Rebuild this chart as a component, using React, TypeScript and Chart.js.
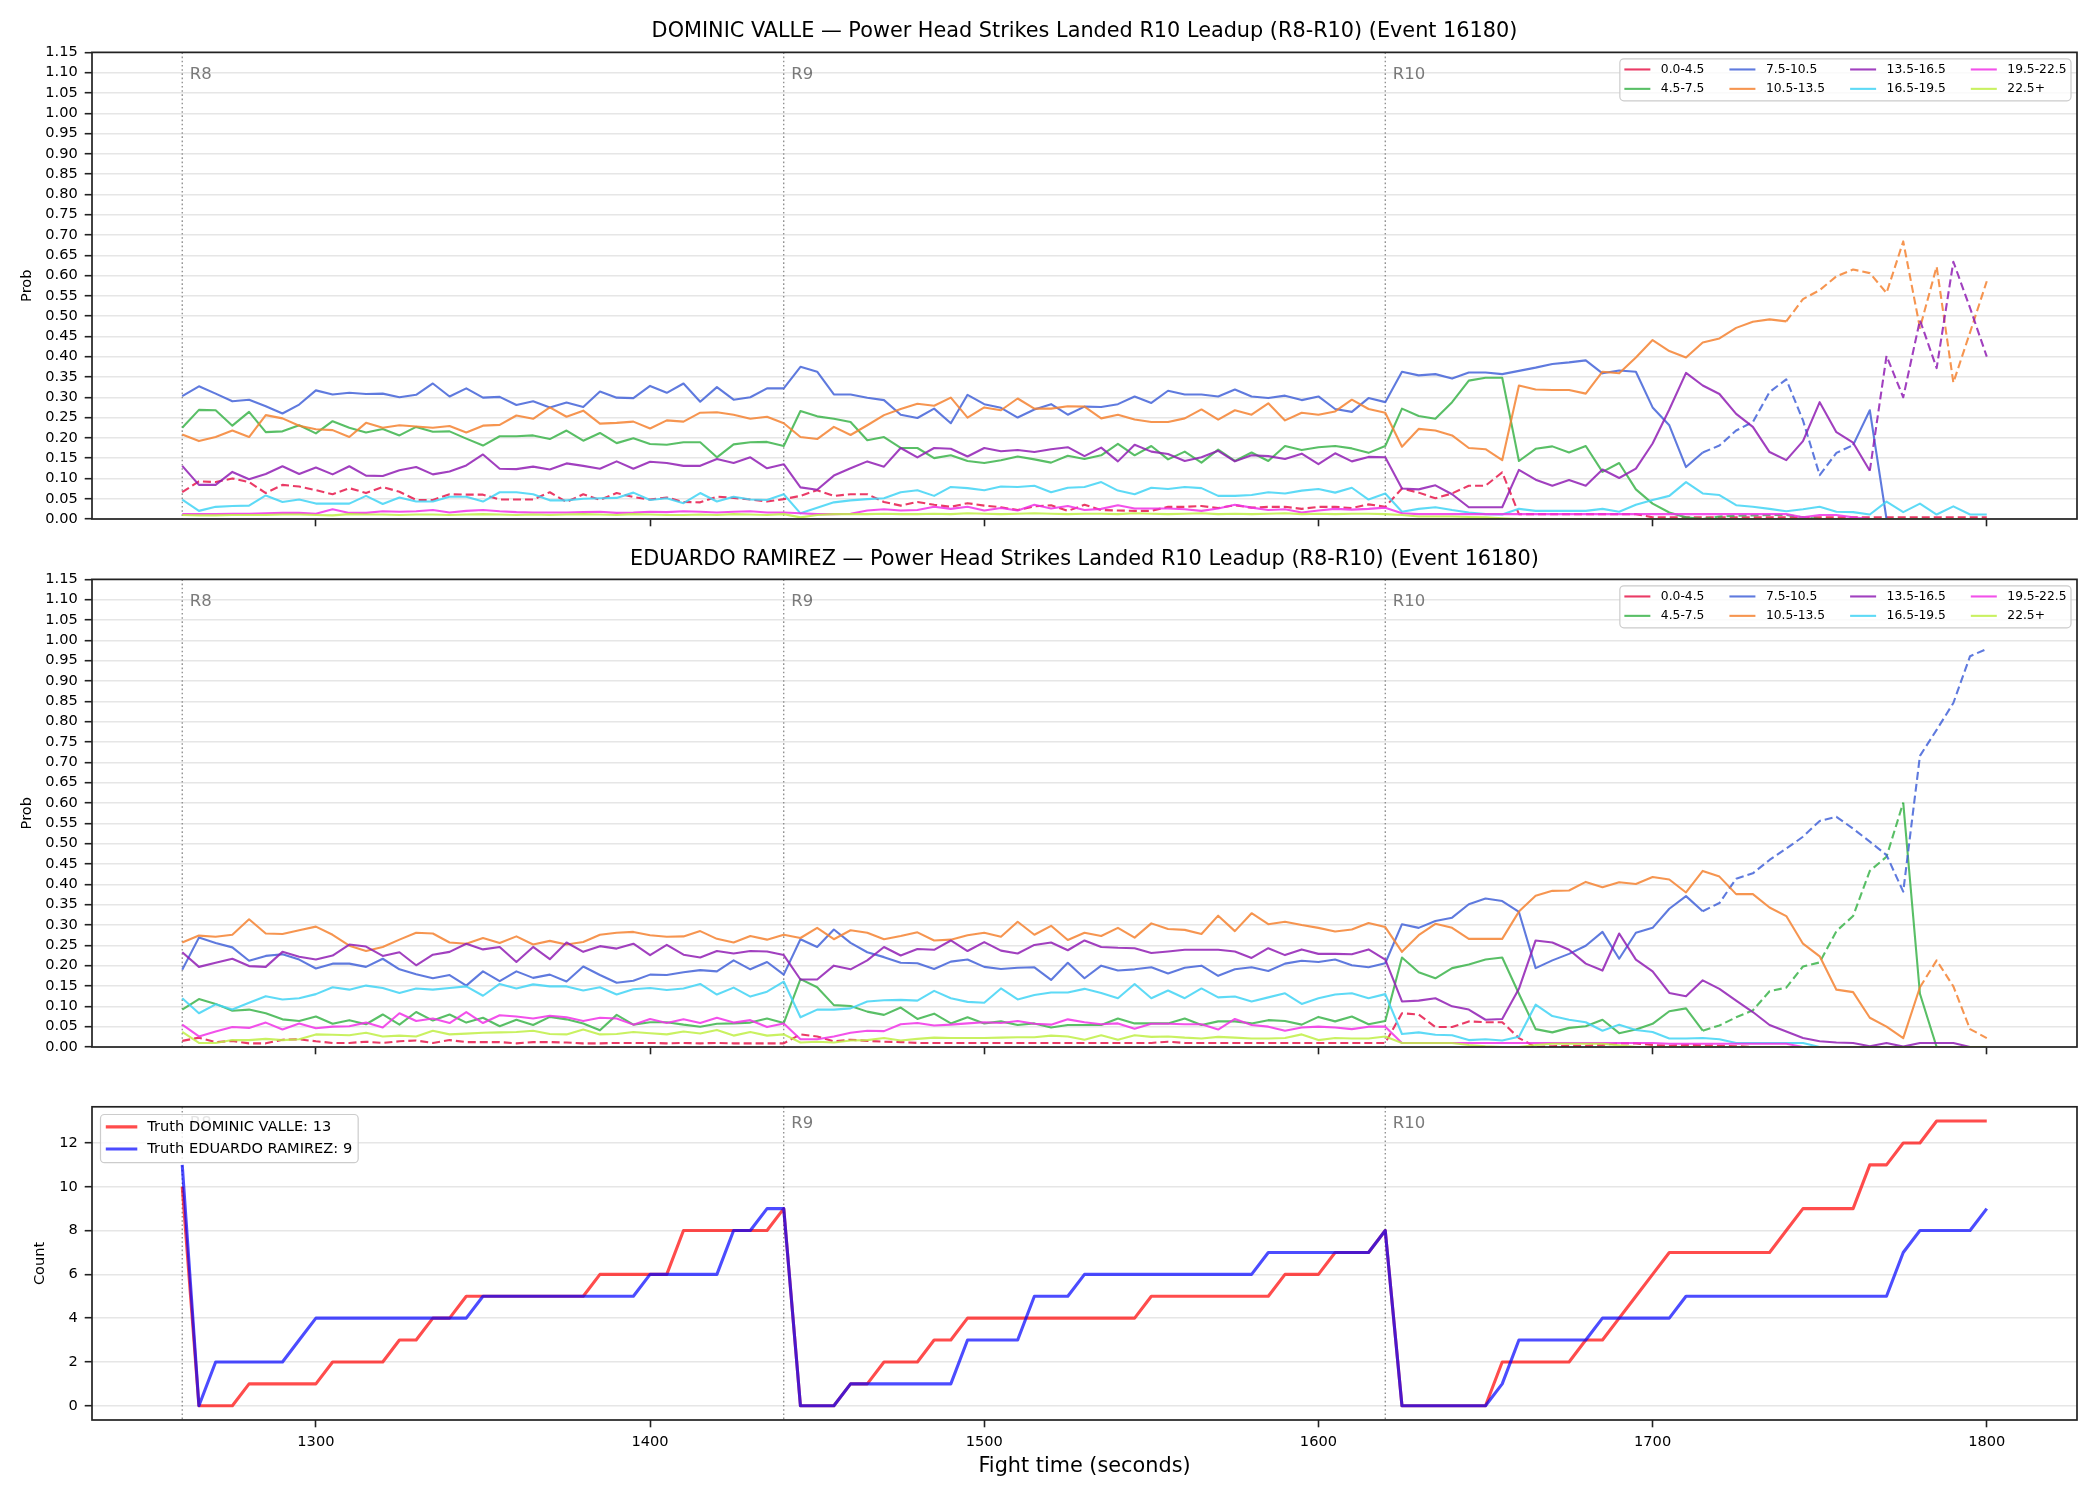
import React, { useEffect, useRef } from "react";
import { Chart, registerables } from "chart.js";

Chart.register(...registerables);

const FONT = "'DejaVu Sans', 'Liberation Sans', Arial, sans-serif";

// ---- sampling grid: fight time in seconds, one sample every 5 s from R8 start to 1800 ----
const T_START = 1260;
const T_STEP = 5;
const N_SAMPLES = 109;
const TIMES: number[] = Array.from({ length: N_SAMPLES }, (_, i) => T_START + i * T_STEP);

const X_MIN = 1233;
const X_MAX = 1827;
const X_TICKS = [1300, 1400, 1500, 1600, 1700, 1800];
const PROB_TICKS = [
  0, 0.05, 0.1, 0.15, 0.2, 0.25, 0.3, 0.35, 0.4, 0.45, 0.5, 0.55,
  0.6, 0.65, 0.7, 0.75, 0.8, 0.85, 0.9, 0.95, 1.0, 1.05, 1.1, 1.15,
];
const COUNT_TICKS = [0, 2, 4, 6, 8, 10, 12];

const ROUND_STARTS = [1260, 1440, 1620];
const ROUND_LABELS = ["R8", "R9", "R10"];

const BUCKETS = ["0.0-4.5", "4.5-7.5", "7.5-10.5", "10.5-13.5", "13.5-16.5", "16.5-19.5", "19.5-22.5", "22.5+"];
const BUCKET_COLORS = ["#e6194b", "#3cb44b", "#4363d8", "#f58231", "#911eb4", "#42d4f4", "#f032e6", "#bfef45"];

// ---- DOMINIC VALLE: bucket probabilities (rows: R8 / R9 / R10 samples) ----
const VALLE_P_0_4 = [
  0.066, 0.093, 0.091, 0.100, 0.091, 0.064, 0.084, 0.080, 0.071, 0.061, 0.076, 0.064, 0.079, 0.067, 0.047, 0.047, 0.061, 0.060, 0.060, 0.048, 0.048, 0.048, 0.066, 0.042, 0.061, 0.047, 0.064, 0.054, 0.048, 0.053, 0.042, 0.041, 0.055, 0.052, 0.048, 0.043, 0.049,
  0.057, 0.071, 0.057, 0.061, 0.061, 0.042, 0.033, 0.042, 0.035, 0.030, 0.039, 0.033, 0.029, 0.022, 0.031, 0.034, 0.020, 0.035, 0.022, 0.021, 0.020, 0.020, 0.030, 0.030, 0.032, 0.027, 0.034, 0.028, 0.030, 0.030, 0.025, 0.030, 0.030, 0.027, 0.036, 0.030,
  0.075, 0.065, 0.051, 0.063, 0.082, 0.082, 0.115, 0.012, 0.012, 0.012, 0.012, 0.012, 0.012, 0.012, 0.012, 0.004, 0.004, 0.004, 0.004, 0.004, 0.004, 0.004, 0.004, 0.004, 0.004, 0.004, 0.004, 0.004, 0.004, 0.004, 0.004, 0.004, 0.004, 0.004, 0.004, 0.004,
];
const VALLE_P_4_7 = [
  0.225, 0.269, 0.268, 0.230, 0.264, 0.214, 0.216, 0.231, 0.211, 0.241, 0.225, 0.213, 0.222, 0.206, 0.227, 0.215, 0.216, 0.198, 0.181, 0.204, 0.204, 0.206, 0.197, 0.218, 0.193, 0.212, 0.187, 0.199, 0.185, 0.183, 0.189, 0.189, 0.152, 0.184, 0.189, 0.190, 0.180,
  0.266, 0.253, 0.247, 0.239, 0.194, 0.202, 0.175, 0.175, 0.150, 0.157, 0.143, 0.138, 0.145, 0.154, 0.147, 0.139, 0.156, 0.148, 0.157, 0.185, 0.157, 0.180, 0.147, 0.166, 0.139, 0.171, 0.143, 0.164, 0.143, 0.180, 0.170, 0.177, 0.180, 0.174, 0.163, 0.180,
  0.272, 0.254, 0.247, 0.288, 0.341, 0.348, 0.348, 0.143, 0.173, 0.179, 0.164, 0.180, 0.116, 0.138, 0.073, 0.038, 0.016, 0.004, 0.000, 0.006, 0.008, 0.009, 0.010, 0.010, 0.004, 0, 0, 0, 0, 0, 0, 0, 0, 0, 0, 0,
];
const VALLE_P_7_10 = [
  0.303, 0.327, 0.309, 0.290, 0.294, 0.278, 0.260, 0.282, 0.317, 0.307, 0.311, 0.308, 0.309, 0.300, 0.306, 0.334, 0.302, 0.322, 0.299, 0.301, 0.281, 0.290, 0.275, 0.287, 0.276, 0.314, 0.299, 0.298, 0.328, 0.311, 0.334, 0.289, 0.325, 0.294, 0.300, 0.322, 0.322,
  0.375, 0.363, 0.307, 0.307, 0.299, 0.293, 0.257, 0.249, 0.272, 0.236, 0.306, 0.283, 0.274, 0.250, 0.270, 0.283, 0.257, 0.277, 0.276, 0.283, 0.302, 0.286, 0.316, 0.307, 0.307, 0.302, 0.319, 0.302, 0.298, 0.304, 0.293, 0.302, 0.271, 0.264, 0.298, 0.288,
  0.363, 0.354, 0.357, 0.346, 0.361, 0.361, 0.357, 0.365, 0.373, 0.382, 0.386, 0.391, 0.359, 0.366, 0.363, 0.275, 0.231, 0.128, 0.164, 0.181, 0.218, 0.239, 0.313, 0.344, 0.243, 0.108, 0.163, 0.182, 0.268, 0, 0, 0, 0, 0, 0, 0,
];
const VALLE_P_10_13 = [
  0.208, 0.192, 0.202, 0.218, 0.202, 0.256, 0.248, 0.230, 0.221, 0.219, 0.202, 0.237, 0.225, 0.231, 0.228, 0.225, 0.229, 0.213, 0.230, 0.232, 0.255, 0.247, 0.275, 0.252, 0.267, 0.235, 0.237, 0.240, 0.223, 0.243, 0.240, 0.262, 0.263, 0.257, 0.247, 0.252, 0.236,
  0.202, 0.197, 0.227, 0.207, 0.231, 0.256, 0.271, 0.284, 0.279, 0.299, 0.250, 0.275, 0.268, 0.297, 0.272, 0.272, 0.278, 0.277, 0.248, 0.257, 0.245, 0.239, 0.239, 0.248, 0.270, 0.245, 0.268, 0.257, 0.285, 0.243, 0.262, 0.257, 0.265, 0.294, 0.271, 0.262,
  0.178, 0.222, 0.218, 0.206, 0.175, 0.172, 0.145, 0.329, 0.319, 0.318, 0.318, 0.309, 0.363, 0.359, 0.398, 0.441, 0.414, 0.398, 0.435, 0.445, 0.471, 0.486, 0.492, 0.487, 0.542, 0.564, 0.598, 0.615, 0.606, 0.557, 0.684, 0.471, 0.622, 0.336, 0.460, 0.586,
];
const VALLE_P_13_16 = [
  0.131, 0.084, 0.084, 0.116, 0.098, 0.111, 0.130, 0.111, 0.127, 0.110, 0.130, 0.107, 0.106, 0.120, 0.128, 0.110, 0.117, 0.132, 0.159, 0.124, 0.123, 0.129, 0.122, 0.137, 0.131, 0.124, 0.142, 0.124, 0.141, 0.138, 0.131, 0.131, 0.148, 0.138, 0.152, 0.125, 0.135,
  0.078, 0.072, 0.107, 0.125, 0.142, 0.129, 0.175, 0.152, 0.175, 0.173, 0.154, 0.175, 0.167, 0.170, 0.165, 0.172, 0.177, 0.155, 0.176, 0.142, 0.183, 0.166, 0.160, 0.143, 0.152, 0.168, 0.142, 0.157, 0.155, 0.148, 0.161, 0.135, 0.162, 0.142, 0.153, 0.152,
  0.075, 0.073, 0.083, 0.061, 0.029, 0.029, 0.029, 0.121, 0.097, 0.082, 0.096, 0.082, 0.122, 0.101, 0.124, 0.186, 0.270, 0.360, 0.329, 0.308, 0.259, 0.227, 0.165, 0.145, 0.192, 0.288, 0.214, 0.188, 0.119, 0.402, 0.300, 0.490, 0.372, 0.634, 0.520, 0.400,
];
const VALLE_P_16_19 = [
  0.048, 0.020, 0.030, 0.032, 0.033, 0.058, 0.042, 0.048, 0.038, 0.038, 0.038, 0.057, 0.037, 0.053, 0.043, 0.043, 0.055, 0.055, 0.043, 0.066, 0.066, 0.061, 0.046, 0.046, 0.050, 0.051, 0.052, 0.065, 0.047, 0.051, 0.039, 0.064, 0.043, 0.055, 0.048, 0.047, 0.061,
  0.014, 0.028, 0.041, 0.046, 0.049, 0.051, 0.066, 0.071, 0.057, 0.079, 0.076, 0.071, 0.080, 0.079, 0.082, 0.066, 0.077, 0.079, 0.091, 0.070, 0.061, 0.077, 0.074, 0.079, 0.076, 0.057, 0.057, 0.059, 0.066, 0.063, 0.070, 0.074, 0.065, 0.077, 0.048, 0.063,
  0.018, 0.025, 0.029, 0.022, 0.016, 0.012, 0.011, 0.025, 0.020, 0.020, 0.020, 0.020, 0.025, 0.018, 0.035, 0.047, 0.057, 0.091, 0.063, 0.059, 0.034, 0.030, 0.025, 0.019, 0.024, 0.030, 0.018, 0.017, 0.011, 0.043, 0.017, 0.038, 0.011, 0.031, 0.011, 0.011,
];
const VALLE_P_19_22 = [
  0.012, 0.012, 0.012, 0.013, 0.013, 0.014, 0.015, 0.015, 0.013, 0.024, 0.015, 0.015, 0.019, 0.018, 0.019, 0.022, 0.016, 0.020, 0.022, 0.019, 0.017, 0.016, 0.016, 0.016, 0.017, 0.018, 0.015, 0.016, 0.018, 0.017, 0.019, 0.018, 0.016, 0.018, 0.019, 0.016, 0.016,
  0.014, 0.012, 0.012, 0.013, 0.021, 0.024, 0.021, 0.022, 0.030, 0.025, 0.030, 0.021, 0.027, 0.021, 0.035, 0.026, 0.032, 0.022, 0.025, 0.034, 0.026, 0.026, 0.026, 0.024, 0.020, 0.026, 0.035, 0.028, 0.022, 0.024, 0.016, 0.021, 0.025, 0.023, 0.025, 0.028,
  0.014, 0.012, 0.012, 0.012, 0.012, 0.012, 0.012, 0.012, 0.012, 0.012, 0.012, 0.012, 0.012, 0.012, 0.012, 0.012, 0.012, 0.012, 0.012, 0.012, 0.012, 0.012, 0.012, 0.012, 0.004, 0.010, 0.010, 0.004, 0, 0, 0, 0, 0, 0, 0, 0,
];
const VALLE_P_22_UP = [
  0.010, 0.009, 0.009, 0.010, 0.010, 0.010, 0.011, 0.011, 0.010, 0.009, 0.012, 0.011, 0.011, 0.010, 0.011, 0.011, 0.010, 0.011, 0.012, 0.011, 0.010, 0.011, 0.010, 0.011, 0.012, 0.011, 0.010, 0.012, 0.011, 0.010, 0.010, 0.011, 0.010, 0.012, 0.011, 0.010, 0.012,
  0.004, 0.010, 0.012, 0.012, 0.012, 0.013, 0.012, 0.012, 0.013, 0.012, 0.014, 0.013, 0.012, 0.013, 0.014, 0.013, 0.012, 0.013, 0.013, 0.012, 0.014, 0.013, 0.012, 0.013, 0.014, 0.012, 0.013, 0.012, 0.013, 0.014, 0.012, 0.013, 0.012, 0.013, 0.013, 0.012,
  0.010, 0.006, 0.006, 0.006, 0.005, 0.004, 0.002, 0, 0, 0, 0, 0, 0, 0, 0, 0, 0, 0, 0, 0, 0, 0, 0, 0, 0, 0, 0, 0, 0, 0, 0, 0, 0, 0, 0, 0,
];

// ---- EDUARDO RAMIREZ: bucket probabilities ----
const RAMIREZ_P_0_4 = [
  0.015, 0.023, 0.012, 0.015, 0.009, 0.009, 0.018, 0.019, 0.014, 0.010, 0.010, 0.013, 0.010, 0.014, 0.016, 0.010, 0.017, 0.012, 0.012, 0.012, 0.009, 0.012, 0.012, 0.011, 0.009, 0.009, 0.010, 0.010, 0.010, 0.009, 0.010, 0.009, 0.010, 0.009, 0.009, 0.009, 0.009,
  0.031, 0.026, 0.014, 0.018, 0.015, 0.013, 0.012, 0.010, 0.010, 0.010, 0.010, 0.010, 0.010, 0.010, 0.010, 0.010, 0.010, 0.010, 0.010, 0.010, 0.010, 0.010, 0.013, 0.010, 0.010, 0.010, 0.010, 0.010, 0.010, 0.010, 0.010, 0.010, 0.010, 0.010, 0.010, 0.010,
  0.083, 0.080, 0.049, 0.049, 0.063, 0.061, 0.061, 0.022, 0.000, 0.002, 0.003, 0.003, 0.005, 0.009, 0.009, 0.005, 0.003, 0.005, 0.004, 0.003, 0.002, 0, 0, 0, 0, 0, 0, 0, 0, 0, 0, 0, 0, 0, 0, 0,
];
const RAMIREZ_P_4_7 = [
  0.092, 0.118, 0.106, 0.089, 0.092, 0.083, 0.068, 0.064, 0.075, 0.057, 0.066, 0.056, 0.080, 0.055, 0.086, 0.065, 0.080, 0.060, 0.072, 0.051, 0.067, 0.054, 0.074, 0.068, 0.058, 0.041, 0.079, 0.055, 0.061, 0.061, 0.055, 0.050, 0.057, 0.058, 0.060, 0.070, 0.059,
  0.167, 0.147, 0.103, 0.101, 0.087, 0.079, 0.097, 0.069, 0.082, 0.058, 0.073, 0.058, 0.063, 0.054, 0.058, 0.048, 0.054, 0.054, 0.054, 0.070, 0.058, 0.058, 0.058, 0.070, 0.054, 0.063, 0.063, 0.058, 0.066, 0.064, 0.055, 0.074, 0.063, 0.075, 0.056, 0.064,
  0.220, 0.184, 0.169, 0.194, 0.203, 0.215, 0.220, 0.131, 0.044, 0.036, 0.047, 0.051, 0.067, 0.034, 0.043, 0.057, 0.088, 0.095, 0.040, 0.053, 0.073, 0.090, 0.137, 0.146, 0.198, 0.208, 0.285, 0.322, 0.433, 0.468, 0.601, 0.131, 0, 0, 0, 0,
];
const RAMIREZ_P_7_10 = [
  0.190, 0.269, 0.256, 0.245, 0.212, 0.224, 0.228, 0.215, 0.193, 0.205, 0.205, 0.197, 0.217, 0.191, 0.179, 0.169, 0.177, 0.151, 0.186, 0.162, 0.186, 0.170, 0.178, 0.161, 0.198, 0.177, 0.158, 0.163, 0.178, 0.177, 0.184, 0.189, 0.186, 0.213, 0.191, 0.209, 0.178,
  0.265, 0.246, 0.289, 0.256, 0.233, 0.221, 0.207, 0.206, 0.192, 0.210, 0.215, 0.197, 0.192, 0.195, 0.196, 0.165, 0.207, 0.169, 0.200, 0.188, 0.191, 0.196, 0.181, 0.195, 0.200, 0.175, 0.191, 0.196, 0.187, 0.205, 0.212, 0.209, 0.215, 0.201, 0.196, 0.206,
  0.302, 0.293, 0.310, 0.318, 0.351, 0.365, 0.359, 0.332, 0.194, 0.213, 0.229, 0.249, 0.283, 0.217, 0.281, 0.293, 0.340, 0.371, 0.334, 0.354, 0.414, 0.427, 0.460, 0.488, 0.517, 0.556, 0.566, 0.537, 0.505, 0.472, 0.382, 0.716, 0.780, 0.846, 0.961, 0.979,
];
const RAMIREZ_P_10_13 = [
  0.257, 0.274, 0.271, 0.276, 0.314, 0.279, 0.278, 0.287, 0.296, 0.276, 0.249, 0.236, 0.246, 0.264, 0.281, 0.279, 0.257, 0.254, 0.268, 0.256, 0.272, 0.252, 0.261, 0.252, 0.258, 0.276, 0.281, 0.283, 0.275, 0.271, 0.272, 0.285, 0.266, 0.257, 0.273, 0.264, 0.276,
  0.268, 0.293, 0.265, 0.287, 0.281, 0.265, 0.273, 0.282, 0.262, 0.264, 0.275, 0.281, 0.271, 0.308, 0.276, 0.298, 0.263, 0.281, 0.273, 0.293, 0.269, 0.304, 0.290, 0.288, 0.278, 0.323, 0.285, 0.329, 0.302, 0.308, 0.300, 0.293, 0.284, 0.289, 0.305, 0.295,
  0.234, 0.275, 0.303, 0.293, 0.266, 0.266, 0.266, 0.333, 0.372, 0.384, 0.385, 0.406, 0.393, 0.405, 0.401, 0.418, 0.412, 0.380, 0.433, 0.419, 0.376, 0.376, 0.343, 0.322, 0.254, 0.223, 0.141, 0.135, 0.072, 0.050, 0.022, 0.147, 0.213, 0.149, 0.044, 0.022,
];
const RAMIREZ_P_13_16 = [
  0.233, 0.197, 0.207, 0.217, 0.199, 0.197, 0.234, 0.222, 0.215, 0.225, 0.252, 0.247, 0.224, 0.233, 0.201, 0.227, 0.234, 0.254, 0.240, 0.246, 0.209, 0.246, 0.216, 0.257, 0.234, 0.248, 0.242, 0.254, 0.226, 0.251, 0.227, 0.220, 0.236, 0.230, 0.236, 0.235, 0.226,
  0.166, 0.166, 0.200, 0.191, 0.213, 0.246, 0.225, 0.241, 0.239, 0.262, 0.236, 0.258, 0.237, 0.230, 0.251, 0.257, 0.238, 0.262, 0.246, 0.244, 0.243, 0.231, 0.235, 0.239, 0.239, 0.239, 0.235, 0.219, 0.243, 0.226, 0.240, 0.229, 0.229, 0.228, 0.240, 0.215,
  0.112, 0.114, 0.120, 0.100, 0.092, 0.067, 0.069, 0.143, 0.262, 0.257, 0.239, 0.205, 0.188, 0.279, 0.215, 0.186, 0.133, 0.125, 0.164, 0.143, 0.114, 0.086, 0.054, 0.038, 0.022, 0.014, 0.011, 0.010, 0.002, 0.010, 0.001, 0.010, 0.010, 0.010, 0, 0,
];
const RAMIREZ_P_16_19 = [
  0.120, 0.083, 0.105, 0.092, 0.109, 0.125, 0.117, 0.120, 0.130, 0.147, 0.141, 0.151, 0.145, 0.133, 0.144, 0.141, 0.145, 0.149, 0.126, 0.155, 0.144, 0.154, 0.149, 0.149, 0.139, 0.147, 0.129, 0.142, 0.145, 0.140, 0.144, 0.155, 0.129, 0.146, 0.124, 0.136, 0.161,
  0.073, 0.092, 0.092, 0.095, 0.112, 0.115, 0.116, 0.114, 0.138, 0.120, 0.111, 0.109, 0.144, 0.117, 0.128, 0.134, 0.134, 0.143, 0.133, 0.120, 0.155, 0.120, 0.139, 0.120, 0.144, 0.122, 0.124, 0.112, 0.122, 0.132, 0.106, 0.120, 0.129, 0.132, 0.120, 0.130,
  0.032, 0.036, 0.030, 0.029, 0.017, 0.019, 0.016, 0.025, 0.104, 0.076, 0.067, 0.061, 0.040, 0.055, 0.042, 0.037, 0.021, 0.021, 0.022, 0.019, 0.010, 0.010, 0.010, 0.010, 0.010, 0, 0, 0, 0, 0, 0, 0, 0, 0, 0, 0,
];
const RAMIREZ_P_19_22 = [
  0.055, 0.026, 0.038, 0.049, 0.047, 0.060, 0.043, 0.058, 0.046, 0.050, 0.051, 0.060, 0.048, 0.083, 0.064, 0.070, 0.059, 0.086, 0.059, 0.078, 0.075, 0.070, 0.077, 0.073, 0.064, 0.072, 0.070, 0.055, 0.069, 0.059, 0.068, 0.059, 0.072, 0.060, 0.066, 0.049, 0.058,
  0.019, 0.019, 0.026, 0.035, 0.040, 0.039, 0.056, 0.059, 0.053, 0.055, 0.058, 0.061, 0.059, 0.064, 0.057, 0.055, 0.068, 0.061, 0.056, 0.058, 0.045, 0.057, 0.057, 0.056, 0.056, 0.043, 0.069, 0.054, 0.050, 0.040, 0.048, 0.050, 0.048, 0.044, 0.050, 0.050,
  0.010, 0.010, 0.010, 0.010, 0.010, 0.010, 0.010, 0.010, 0.010, 0.010, 0.010, 0.010, 0.010, 0.010, 0.010, 0.010, 0.008, 0.008, 0.008, 0.008, 0.008, 0.008, 0.008, 0.008, 0, 0, 0, 0, 0, 0, 0, 0, 0, 0, 0, 0,
];
const RAMIREZ_P_22_UP = [
  0.037, 0.010, 0.010, 0.017, 0.017, 0.020, 0.017, 0.019, 0.031, 0.030, 0.029, 0.035, 0.026, 0.028, 0.026, 0.040, 0.031, 0.033, 0.035, 0.036, 0.037, 0.040, 0.032, 0.031, 0.043, 0.031, 0.032, 0.037, 0.034, 0.031, 0.038, 0.033, 0.042, 0.028, 0.037, 0.028, 0.031,
  0.011, 0.013, 0.011, 0.016, 0.017, 0.022, 0.016, 0.020, 0.023, 0.022, 0.022, 0.022, 0.023, 0.024, 0.024, 0.028, 0.026, 0.018, 0.029, 0.018, 0.029, 0.025, 0.026, 0.023, 0.021, 0.025, 0.023, 0.021, 0.021, 0.022, 0.031, 0.017, 0.022, 0.021, 0.021, 0.026,
  0.010, 0.010, 0.010, 0.010, 0.005, 0.002, 0, 0, 0.005, 0.008, 0.008, 0.008, 0.008, 0.004, 0, 0, 0, 0, 0, 0, 0, 0, 0, 0, 0, 0, 0, 0, 0, 0, 0, 0, 0, 0, 0, 0,
];

// Time spans [from, to] where a bucket's line is drawn dashed (null = solid throughout)
const VALLE_DASHED: (number[] | null)[] = [[1260, 1800], [1715, 1800], [1715, 1760], [1740, 1800], [1765, 1800], null, null, null];
const RAMIREZ_DASHED: (number[] | null)[] = [[1260, 1800], [1715, 1775], [1715, 1800], [1780, 1800], null, null, null, null];

// ---- running landed-strike counts within each round ----
const DOMINIC_COUNT = [
  10, 0, 0, 0, 1, 1, 1, 1, 1, 2, 2, 2, 2, 3, 3, 4, 4, 5, 5, 5, 5, 5, 5, 5, 5, 6, 6, 6, 6, 6, 8, 8, 8, 8, 8, 8, 9,
  0, 0, 0, 1, 1, 2, 2, 2, 3, 3, 4, 4, 4, 4, 4, 4, 4, 4, 4, 4, 4, 5, 5, 5, 5, 5, 5, 5, 5, 6, 6, 6, 7, 7, 7, 8,
  0, 0, 0, 0, 0, 0, 2, 2, 2, 2, 2, 3, 3, 4, 5, 6, 7, 7, 7, 7, 7, 7, 7, 8, 9, 9, 9, 9, 11, 11, 12, 12, 13, 13, 13, 13,
];
const EDUARDO_COUNT = [
  11, 0, 2, 2, 2, 2, 2, 3, 4, 4, 4, 4, 4, 4, 4, 4, 4, 4, 5, 5, 5, 5, 5, 5, 5, 5, 5, 5, 6, 6, 6, 6, 6, 8, 8, 9, 9,
  0, 0, 0, 1, 1, 1, 1, 1, 1, 1, 3, 3, 3, 3, 5, 5, 5, 6, 6, 6, 6, 6, 6, 6, 6, 6, 6, 6, 7, 7, 7, 7, 7, 7, 7, 8,
  0, 0, 0, 0, 0, 0, 1, 3, 3, 3, 3, 3, 4, 4, 4, 4, 4, 5, 5, 5, 5, 5, 5, 5, 5, 5, 5, 5, 5, 5, 7, 8, 8, 8, 8, 9,
];

const VALLE_SERIES = [VALLE_P_0_4, VALLE_P_4_7, VALLE_P_7_10, VALLE_P_10_13, VALLE_P_13_16, VALLE_P_16_19, VALLE_P_19_22, VALLE_P_22_UP];
const RAMIREZ_SERIES = [RAMIREZ_P_0_4, RAMIREZ_P_4_7, RAMIREZ_P_7_10, RAMIREZ_P_10_13, RAMIREZ_P_13_16, RAMIREZ_P_16_19, RAMIREZ_P_19_22, RAMIREZ_P_22_UP];

// ---- drawing constants ----
const CANVAS_W = 2100;
const Y_AXIS_W = 92;
const RIGHT_PAD = 23;
const DASH = [8, 4];
const TICK_LEN = 7.3;
const TICK_W = 1.6;
const INK = "#000000";
const SPINE = "#222222";
const GRID = "#e6e6e6";
const TICK_FONT = 14.6;
const TITLE_FONT = 20.8;

function withAlpha(hex: string, a: number): string {
  const n = parseInt(hex.slice(1), 16);
  return `rgba(${(n >> 16) & 255},${(n >> 8) & 255},${n & 255},${a})`;
}

// dotted round separators with their labels
function makeRoundMarkers(labelOffset: number) {
  return {
    id: "roundMarkers",
    beforeDatasetsDraw(chart: any) {
      const { ctx, chartArea } = chart;
      const xs = chart.scales.x;
      ctx.save();
      ROUND_STARTS.forEach((t, i) => {
        const px = xs.getPixelForValue(t);
        ctx.strokeStyle = "#808080";
        ctx.lineWidth = 1.2;
        ctx.setLineDash([1.6, 2.6]);
        ctx.beginPath();
        ctx.moveTo(px, chartArea.top);
        ctx.lineTo(px, chartArea.bottom);
        ctx.stroke();
        ctx.setLineDash([]);
        ctx.fillStyle = "rgba(90,90,90,0.8)";
        ctx.font = `16.5px ${FONT}`;
        ctx.textAlign = "left";
        ctx.textBaseline = "middle";
        ctx.fillText(ROUND_LABELS[i], px + 7.5, chartArea.top + labelOffset);
      });
      ctx.restore();
    },
  };
}

// black box around the plotting area
const framePlugin = {
  id: "axesFrame",
  afterDatasetsDraw(chart: any) {
    const { ctx, chartArea } = chart;
    ctx.save();
    ctx.strokeStyle = SPINE;
    ctx.lineWidth = 1.7;
    ctx.setLineDash([]);
    ctx.strokeRect(chartArea.left, chartArea.top, chartArea.right - chartArea.left, chartArea.bottom - chartArea.top);
    ctx.restore();
  },
};

type LegendItem = { label: string; color: string; width: number };
type LegendLayout = {
  anchor: "left" | "right";
  insetX: number;
  insetY: number;
  ncol: number;
  fontSize: number;
  padL: number;
  padR: number;
  handleLen: number;
  handleGap: number;
  colGap: number;
  rowY: number[];
  boxH: number;
};

// framed legend placed inside the plotting area, filled column by column
function makeBoxLegend(items: LegendItem[], L: LegendLayout) {
  return {
    id: "boxLegend",
    afterDraw(chart: any) {
      const { ctx, chartArea } = chart;
      ctx.save();
      ctx.font = `${L.fontSize}px ${FONT}`;
      const nrow = Math.ceil(items.length / L.ncol);
      const colW: number[] = [];
      for (let c = 0; c < L.ncol; c++) {
        let w = 0;
        for (let r = 0; r < nrow; r++) {
          const it = items[c * nrow + r];
          if (it) w = Math.max(w, ctx.measureText(it.label).width);
        }
        colW.push(w);
      }
      const inner = colW.reduce((s, w) => s + L.handleLen + L.handleGap + w, 0) + L.colGap * (L.ncol - 1);
      const width = L.padL + inner + L.padR;
      const left = L.anchor === "right" ? chartArea.right - L.insetX - width : chartArea.left + L.insetX;
      const top = chartArea.top + L.insetY;
      ctx.beginPath();
      if ((ctx as any).roundRect) (ctx as any).roundRect(left, top, width, L.boxH, 4);
      else ctx.rect(left, top, width, L.boxH);
      ctx.fillStyle = "rgba(255,255,255,0.8)";
      ctx.fill();
      ctx.lineWidth = 1.2;
      ctx.strokeStyle = "#cccccc";
      ctx.stroke();
      let x = left + L.padL;
      for (let c = 0; c < L.ncol; c++) {
        for (let r = 0; r < nrow; r++) {
          const it = items[c * nrow + r];
          if (!it) continue;
          const y = top + L.rowY[r];
          ctx.beginPath();
          ctx.strokeStyle = it.color;
          ctx.lineWidth = it.width;
          ctx.moveTo(x, y);
          ctx.lineTo(x + L.handleLen, y);
          ctx.stroke();
          ctx.fillStyle = INK;
          ctx.textAlign = "left";
          ctx.textBaseline = "middle";
          ctx.fillText(it.label, x + L.handleLen + L.handleGap, y);
        }
        x += L.handleLen + L.handleGap + colW[c] + L.colGap;
      }
      ctx.restore();
    },
  };
}

function xScaleBase(height: number, showLabels: boolean) {
  return {
    type: "linear",
    min: X_MIN,
    max: X_MAX,
    afterBuildTicks: (s: any) => {
      s.ticks = X_TICKS.map((v) => ({ value: v }));
    },
    afterFit: (s: any) => {
      s.height = height;
    },
    border: { display: false },
    grid: { drawOnChartArea: false, drawTicks: true, tickLength: TICK_LEN, tickWidth: TICK_W, tickColor: SPINE },
    ticks: {
      display: showLabels,
      autoSkip: false,
      maxRotation: 0,
      padding: 5.7,
      color: INK,
      font: { family: FONT, size: TICK_FONT },
      callback: (v: any) => String(v),
    },
  };
}

function probConfig(title: string, series: number[][], dashed: (number[] | null)[], titlePad: { top: number; bottom: number }, xAxisH: number) {
  const datasets = BUCKETS.map((label, i) => {
    const span = dashed[i];
    const isDashed = (x: number) => span !== null && x >= span[0] && x < span[1];
    return {
      label,
      data: TIMES.map((t, k) => ({ x: t, y: series[i][k] })),
      borderColor: withAlpha(BUCKET_COLORS[i], 0.85),
      borderWidth: 2.1,
      pointRadius: 0,
      pointHoverRadius: 0,
      tension: 0,
      fill: false,
      borderJoinStyle: "round",
      segment: {
        borderDash: (ctx: any) => (isDashed(ctx.p0.parsed.x) ? DASH : []),
      },
      order: BUCKETS.length - i,
    };
  });
  const legendItems = BUCKETS.map((label, i) => ({ label, color: withAlpha(BUCKET_COLORS[i], 0.85), width: 2.1 }));
  return {
    type: "line",
    data: { datasets },
    options: {
      responsive: false,
      animation: false,
      devicePixelRatio: 1,
      events: [],
      layout: { padding: { left: 0, right: RIGHT_PAD, top: 0, bottom: 0 } },
      plugins: {
        legend: { display: false },
        tooltip: { enabled: false },
        title: {
          display: true,
          text: title,
          fullSize: false,
          color: INK,
          font: { family: FONT, size: TITLE_FONT, weight: "normal", lineHeight: 1.2 },
          padding: titlePad,
        },
      },
      scales: {
        x: xScaleBase(xAxisH, false),
        y: {
          type: "linear",
          min: 0,
          max: 1.15,
          afterBuildTicks: (s: any) => {
            s.ticks = PROB_TICKS.map((v) => ({ value: v }));
          },
          afterFit: (s: any) => {
            s.width = Y_AXIS_W;
          },
          border: { display: false },
          grid: { color: GRID, lineWidth: 1.4, drawTicks: true, tickLength: TICK_LEN, tickWidth: TICK_W, tickColor: SPINE },
          ticks: {
            autoSkip: false,
            padding: 7,
            color: INK,
            font: { family: FONT, size: TICK_FONT },
            callback: (v: any) => Number(v).toFixed(2),
          },
          title: {
            display: true,
            text: "Prob",
            color: INK,
            font: { family: FONT, size: TICK_FONT },
            padding: { top: 18.7, bottom: 0 },
          },
        },
      },
    },
    plugins: [
      makeRoundMarkers(22),
      framePlugin,
      makeBoxLegend(legendItems, {
        anchor: "right",
        insetX: 6,
        insetY: 6.5,
        ncol: 4,
        fontSize: 12.3,
        padL: 4.5,
        padR: 4.5,
        handleLen: 26,
        handleGap: 10.5,
        colGap: 25,
        rowY: [10.6, 30],
        boxH: 42,
      }),
    ],
  };
}

function countConfig() {
  const redLabel = `Truth DOMINIC VALLE: ${DOMINIC_COUNT[DOMINIC_COUNT.length - 1]}`;
  const blueLabel = `Truth EDUARDO RAMIREZ: ${EDUARDO_COUNT[EDUARDO_COUNT.length - 1]}`;
  const red = "rgba(255,0,0,0.7)";
  const blue = "rgba(0,0,255,0.7)";
  const line = (label: string, values: number[], color: string, order: number) => ({
    label,
    data: TIMES.map((t, k) => ({ x: t, y: values[k] })),
    borderColor: color,
    borderWidth: 3.1,
    pointRadius: 0,
    pointHoverRadius: 0,
    tension: 0,
    fill: false,
    borderJoinStyle: "round",
    order,
  });
  return {
    type: "line",
    data: { datasets: [line(redLabel, DOMINIC_COUNT, red, 2), line(blueLabel, EDUARDO_COUNT, blue, 1)] },
    options: {
      responsive: false,
      animation: false,
      devicePixelRatio: 1,
      events: [],
      layout: { padding: { left: 0, right: RIGHT_PAD, top: 26.8, bottom: 0 } },
      plugins: {
        legend: { display: false },
        tooltip: { enabled: false },
        title: { display: false },
      },
      scales: {
        x: {
          ...xScaleBase(80, true),
          title: {
            display: true,
            text: "Fight time (seconds)",
            color: INK,
            font: { family: FONT, size: TITLE_FONT },
            padding: { top: 0, bottom: 20.7 },
          },
        },
        y: {
          type: "linear",
          min: -0.65,
          max: 13.65,
          afterBuildTicks: (s: any) => {
            s.ticks = COUNT_TICKS.map((v) => ({ value: v }));
          },
          afterFit: (s: any) => {
            s.width = Y_AXIS_W;
          },
          border: { display: false },
          grid: { color: GRID, lineWidth: 1.4, drawTicks: true, tickLength: TICK_LEN, tickWidth: TICK_W, tickColor: SPINE },
          ticks: {
            autoSkip: false,
            padding: 7,
            color: INK,
            font: { family: FONT, size: TICK_FONT },
            callback: (v: any) => String(v),
          },
          title: {
            display: true,
            text: "Count",
            color: INK,
            font: { family: FONT, size: TICK_FONT },
            padding: { top: 31.4, bottom: 0 },
          },
        },
      },
    },
    plugins: [
      makeRoundMarkers(17.2),
      framePlugin,
      makeBoxLegend(
        [
          { label: redLabel, color: red, width: 3.1 },
          { label: blueLabel, color: blue, width: 3.1 },
        ],
        {
          anchor: "left",
          insetX: 8.5,
          insetY: 7.7,
          ncol: 1,
          fontSize: 14.6,
          padL: 5.3,
          padR: 6,
          handleLen: 31.5,
          handleGap: 10,
          colGap: 0,
          rowY: [12.4, 34.5],
          boxH: 48.2,
        }
      ),
    ],
  };
}

function ChartCanvas({ top, height, build }: { top: number; height: number; build: () => any }) {
  const ref = useRef<HTMLCanvasElement>(null);
  useEffect(() => {
    if (!ref.current) return;
    const chart = new Chart(ref.current, build());
    return () => chart.destroy();
  }, []);
  return (
    <canvas
      ref={ref}
      width={CANVAS_W}
      height={height}
      style={{ position: "absolute", left: 0, top, width: CANVAS_W, height }}
    />
  );
}

export default function App() {
  return (
    <div style={{ position: "absolute", left: 0, top: 0, width: CANVAS_W, height: 1500, background: "#ffffff" }}>
      <ChartCanvas
        top={0}
        height={540}
        build={() =>
          probConfig(
            "DOMINIC VALLE \u2014 Power Head Strikes Landed R10 Leadup (R8-R10) (Event 16180)",
            VALLE_SERIES,
            VALLE_DASHED,
            { top: 19.4, bottom: 8 },
            21
          )
        }
      />
      <ChartCanvas
        top={540}
        height={540}
        build={() =>
          probConfig(
            "EDUARDO RAMIREZ \u2014 Power Head Strikes Landed R10 Leadup (R8-R10) (Event 16180)",
            RAMIREZ_SERIES,
            RAMIREZ_DASHED,
            { top: 7.4, bottom: 7 },
            33
          )
        }
      />
      <ChartCanvas top={1080} height={420} build={countConfig} />
    </div>
  );
}
